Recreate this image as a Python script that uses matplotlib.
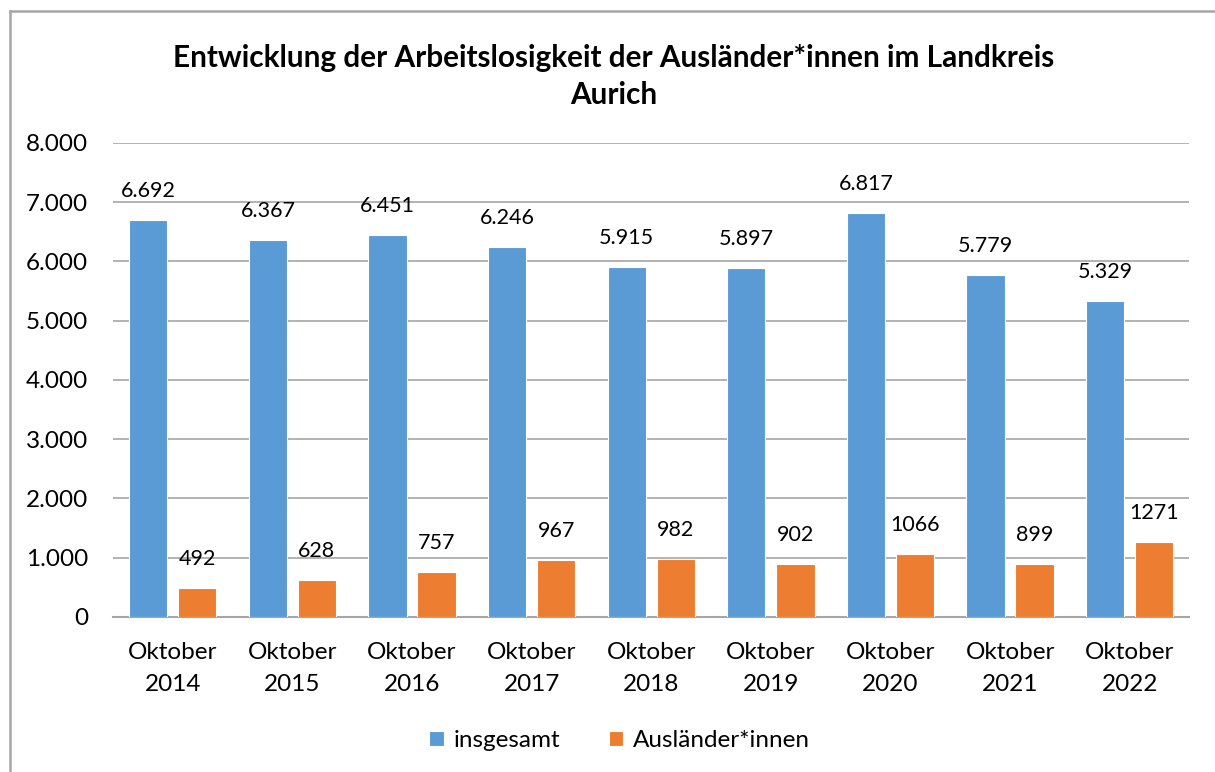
import matplotlib
matplotlib.use("Agg")
import matplotlib.pyplot as plt
from matplotlib.lines import Line2D
from matplotlib.ticker import FuncFormatter
import numpy as np

plt.rcParams['font.family'] = ['Lato', 'DejaVu Sans']

# Arbeitslose im Oktober, Landkreis Aurich
years = ['2014', '2015', '2016', '2017', '2018', '2019', '2020', '2021', '2022']
insgesamt = [6692, 6367, 6451, 6246, 5915, 5897, 6817, 5779, 5329]
auslaender = [492, 628, 757, 967, 982, 902, 1066, 899, 1271]
labels_insgesamt = ['6.692', '6.367', '6.451', '6.246', '5.915', '5.897', '6.817', '5.779', '5.329']
labels_auslaender = ['492', '628', '757', '967', '982', '902', '1066', '899', '1271']

BLUE = '#5B9BD5'
ORANGE = '#ED7D31'
GRID = '#a6a6a6'

fig = plt.figure(figsize=(12.15, 7.72), dpi=100)
ax = fig.add_axes([0.093, 0.2008, 0.886, 0.614])

x = np.arange(len(years))
w = 0.32
b1 = ax.bar(x - 0.205, insgesamt, w, color=BLUE, edgecolor='white', linewidth=0.8,
            label='insgesamt', zorder=3)
b2 = ax.bar(x + 0.205, auslaender, w, color=ORANGE, edgecolor='white', linewidth=0.8,
            label='Ausländer*innen', zorder=3)

# value labels above the bars
for bars, texts in ((b1, labels_insgesamt), (b2, labels_auslaender)):
    for rect, t in zip(bars, texts):
        ax.annotate(t, (rect.get_x() + rect.get_width() / 2, rect.get_height()),
                    xytext=(0, 29), textcoords='offset pixels',
                    ha='center', va='center', fontsize=15.5, color='black', zorder=4)

ax.set_xlim(-0.5, len(years) - 0.5)
ax.set_ylim(0, 8000)
ax.set_yticks(range(0, 8001, 1000))
ax.yaxis.set_major_formatter(FuncFormatter(lambda v, p: f'{int(v):,}'.replace(',', '.')))
ax.set_xticks(x)
ax.set_xticklabels([f'Oktober\n{y}' for y in years], linespacing=1.65)
ax.tick_params(axis='both', length=0, labelsize=17.5, colors='black')
ax.tick_params(axis='y', pad=18)
ax.tick_params(axis='x', pad=18)

ax.grid(axis='y', color=GRID, linewidth=1.2, zorder=0)
for side in ('left', 'right', 'top'):
    ax.spines[side].set_visible(False)
ax.spines['bottom'].set_color(GRID)
ax.spines['bottom'].set_linewidth(1.5)

fig.text(0.505, 0.901, 'Entwicklung der Arbeitslosigkeit der Ausländer*innen im Landkreis\nAurich',
         ha='center', va='center', fontsize=21.4, fontweight='bold', linespacing=1.36)

fig.legend(handles=[b1, b2], loc='center', bbox_to_anchor=(0.51, 0.041), ncol=2,
           frameon=False, fontsize=17.5, handlelength=0.6, handleheight=0.6,
           handletextpad=0.4, columnspacing=2.0)

# chart frame (left and top edge)
fig.add_artist(Line2D([10 / 1215, 10 / 1215], [0, 1 - 11 / 772], color=GRID, linewidth=1.8))
fig.add_artist(Line2D([10 / 1215, 1], [1 - 11 / 772, 1 - 11 / 772], color=GRID, linewidth=1.8))

fig.savefig('out.png', dpi=100)
